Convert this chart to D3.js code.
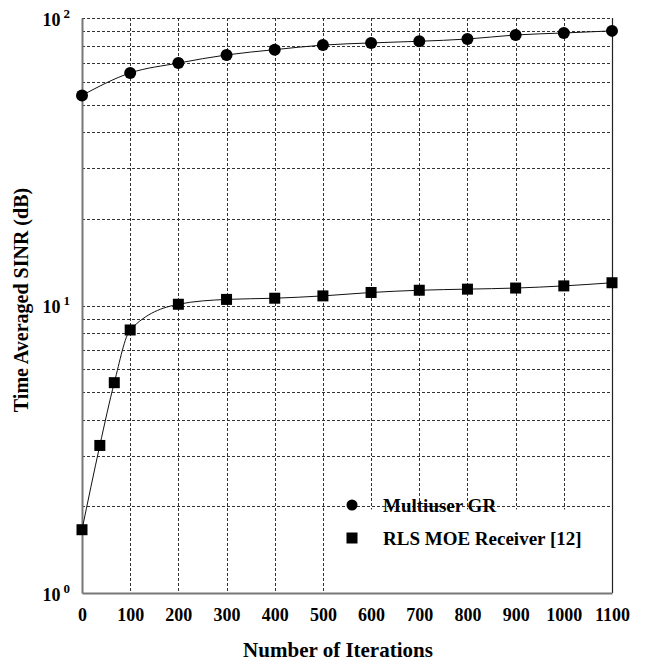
<!DOCTYPE html>
<html>
<head>
<meta charset="utf-8">
<script src="https://cdn.jsdelivr.net/npm/d3@7"></script>
<style>
  body { margin: 0; background: #fff; }
  text { font-family: "Liberation Serif", "Times New Roman", serif; font-weight: bold; fill: #000; }
</style>
</head>
<body>
<div id="chart"></div>
<script>
// values
const iterTicks = [0, 100, 200, 300, 400, 500, 600, 700, 800, 900, 1000, 1100];
const sinrTicks = [1, 10, 100];

const iterGR = [0, 100, 200, 300, 400, 500, 600, 700, 800, 900, 1000, 1100];
const sinrGR = [53.8, 64.4, 69.7, 74.4, 77.6, 80.5, 81.9, 83.0, 84.5, 87.3, 88.7, 90.2];

const iterRLS = [0, 37, 67, 100, 200, 300, 400, 500, 600, 700, 800, 900, 1000, 1100];
const sinrRLS = [1.66, 3.26, 5.39, 8.22, 10.1, 10.5, 10.6, 10.8, 11.1, 11.3, 11.4, 11.5, 11.7, 12.0];

const legendNames = ["Multiuser GR", "RLS MOE Receiver [12]"];

const svg = d3
  .select("#chart")
  .append("svg")
  .attr("width", 646)
  .attr("height", 664);

const margin = { top: 18, bottom: 71, left: 82, right: 34 };
const width = +svg.attr("width") - margin.left - margin.right;
const height = +svg.attr("height") - margin.top - margin.bottom;

const chart = svg.append("g").attr("transform", `translate(${margin.left},${margin.top})`);

const xScale = d3.scaleLinear().domain([0, 1100]).range([0, width]);
const yScale = d3.scaleLog().domain([1, 100]).range([height, 0]);

// minor + major grid values on the log axis
const gridY = [];
[1, 10].forEach(dec => {
  for (let m = 2; m <= 10; m++) gridY.push(dec * m);
});

chart.append("g")
  .selectAll("line")
  .data(gridY)
  .join("line")
  .attr("x1", 0)
  .attr("x2", width)
  .attr("y1", d => Math.round(yScale(d)) + 0.5)
  .attr("y2", d => Math.round(yScale(d)) + 0.5)
  .attr("stroke", "#333")
  .attr("stroke-width", 1)
  .attr("stroke-dasharray", "3,2");

chart.append("g")
  .selectAll("line")
  .data(iterTicks.slice(1, -1))
  .join("line")
  .attr("x1", d => Math.round(xScale(d)) + 0.5)
  .attr("x2", d => Math.round(xScale(d)) + 0.5)
  .attr("y1", 0)
  .attr("y2", height)
  .attr("stroke", "#333")
  .attr("stroke-width", 1)
  .attr("stroke-dasharray", "3,2");

// white legend area covers the grid in the lower right
chart.append("rect")
  .attr("x", xScale(500) + 1.5)
  .attr("y", yScale(2) + 3)
  .attr("width", width - xScale(500) - 1.5)
  .attr("height", height - yScale(2) - 3)
  .attr("fill", "#fff");

// frame
chart.append("line")
  .attr("x1", width + 0.5).attr("x2", width + 0.5)
  .attr("y1", 0).attr("y2", height)
  .attr("stroke", "#222").attr("stroke-width", 1.2);

// axes
const xAxis = chart.append("g")
  .attr("class", "x-axis")
  .attr("transform", `translate(0,${height})`)
  .call(d3.axisBottom(xScale).tickValues(iterTicks).tickSize(0).tickPadding(15).tickFormat(d3.format("d")));
xAxis.select(".domain").attr("stroke", "#777").attr("stroke-width", 2);
xAxis.selectAll("text").style("font-size", "18px");

const yAxis = chart.append("g")
  .attr("class", "y-axis")
  .call(d3.axisLeft(yScale).tickValues(sinrTicks).tickSize(0).tickPadding(12));
yAxis.select(".domain").attr("stroke", "#777").attr("stroke-width", 2);
yAxis.selectAll("text")
  .text(null)
  .attr("dy", "0.4em")
  .style("font-size", "18px")
  .each(function(d) {
    const t = d3.select(this);
    t.append("tspan").text("10");
    t.append("tspan")
      .attr("dy", "-0.6em")
      .attr("dx", "3")
      .style("font-size", "13px")
      .text(Math.round(Math.log10(d)));
  });

// curves
const line = d3.line()
  .x(d => xScale(d.x))
  .y(d => yScale(d.y))
  .curve(d3.curveMonotoneX);

const grData = iterGR.map((x, i) => ({ x, y: sinrGR[i] }));
const rlsData = iterRLS.map((x, i) => ({ x, y: sinrRLS[i] }));

[grData, rlsData].forEach(data => {
  chart.append("path")
    .datum(data)
    .attr("fill", "none")
    .attr("stroke", "#111")
    .attr("stroke-width", 1)
    .attr("d", line);
});

chart.append("g")
  .selectAll("circle")
  .data(grData)
  .join("circle")
  .attr("cx", d => xScale(d.x))
  .attr("cy", d => yScale(d.y))
  .attr("r", 6)
  .attr("fill", "#000");

const sq = 11;
chart.append("g")
  .selectAll("rect")
  .data(rlsData)
  .join("rect")
  .attr("x", d => xScale(d.x) - sq / 2)
  .attr("y", d => yScale(d.y) - sq / 2)
  .attr("width", sq)
  .attr("height", sq)
  .attr("fill", "#000");

// legend
const legend = chart.append("g")
  .attr("transform", `translate(${352 - margin.left},${505 - margin.top})`);

legend.append("circle").attr("cx", 0).attr("cy", 0).attr("r", 5.5).attr("fill", "#000");
legend.append("rect").attr("x", -5.5).attr("y", 33 - 5.5).attr("width", 11).attr("height", 11).attr("fill", "#000");

legend.selectAll("text.lab")
  .data(legendNames)
  .join("text")
  .attr("class", "lab")
  .attr("x", 31)
  .attr("y", (d, i) => i * 33)
  .attr("dy", "0.35em")
  .style("font-size", "19px")
  .text(d => d);

// titles
svg.append("text")
  .attr("x", 338)
  .attr("y", 657)
  .attr("text-anchor", "middle")
  .style("font-size", "21px")
  .text("Number of Iterations");

svg.append("text")
  .attr("transform", "translate(28,300) rotate(-90)")
  .attr("text-anchor", "middle")
  .style("font-size", "20px")
  .text("Time Averaged SINR (dB)");
</script>
</body>
</html>
